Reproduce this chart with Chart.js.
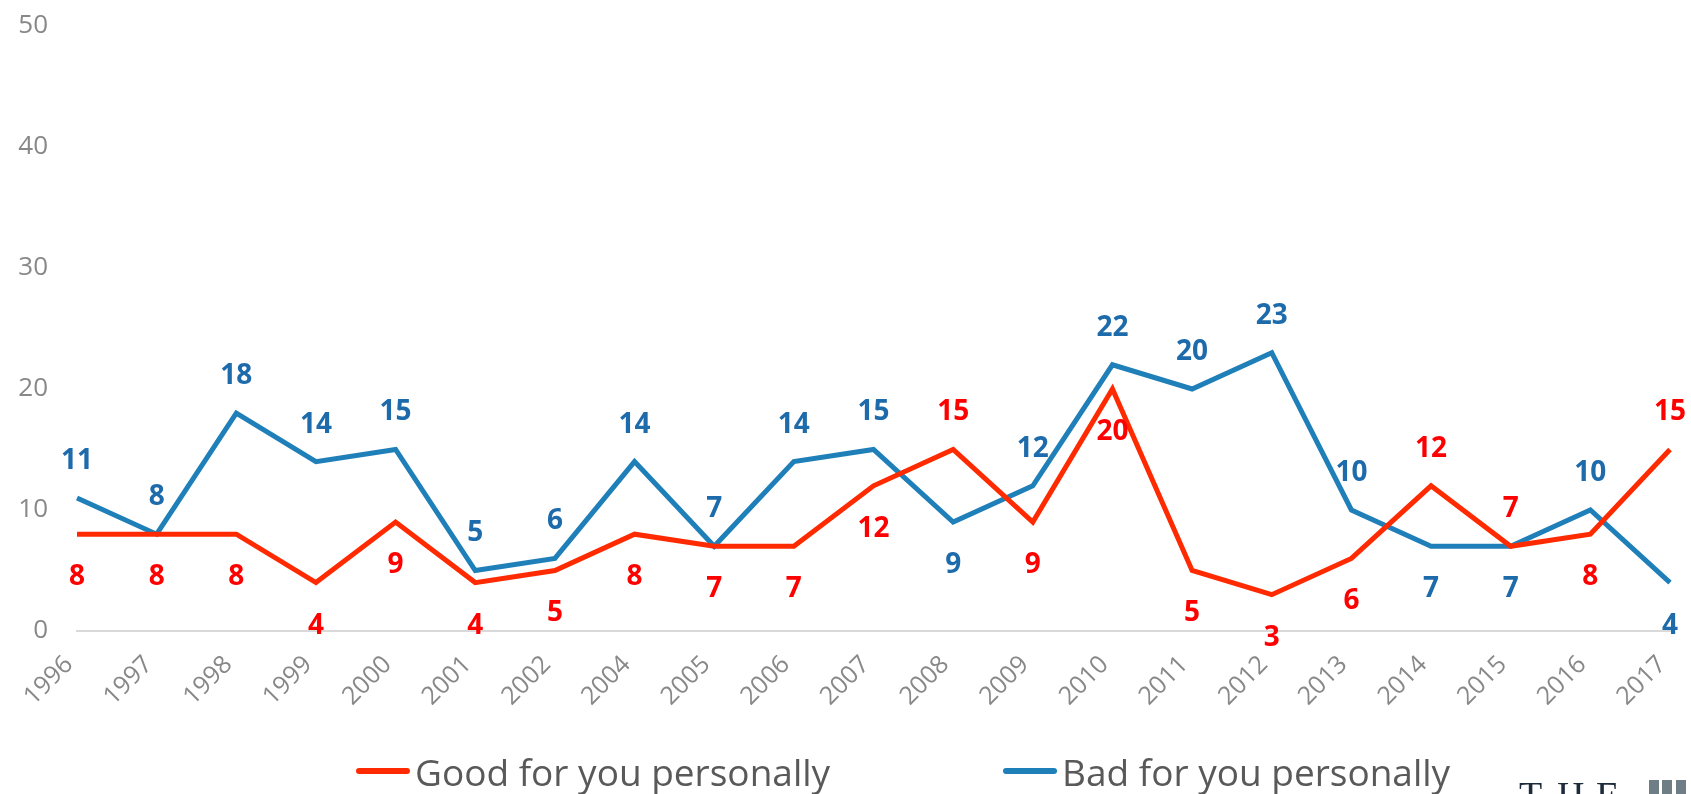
<!DOCTYPE html>
<html><head><meta charset="utf-8">
<script src="https://cdn.jsdelivr.net/npm/chart.js@4.4.0/dist/chart.umd.min.js"></script>
<style>
html,body{margin:0;padding:0;background:#fff;overflow:hidden}
#wrap{position:relative;width:1691px;height:794px}
</style>
</head><body><div id="wrap"><canvas id="c" width="1691" height="794"></canvas></div>
<script>
const years = ['1996','1997','1998','1999','2000','2001','2002','2004','2005','2006','2007','2008','2009','2010','2011','2012','2013','2014','2015','2016','2017'];
const goodForYou = [8,8,8,4,9,4,5,8,7,7,12,15,9,20,5,3,6,12,7,8,15];
const badForYou = [11,8,18,14,15,5,6,14,7,14,15,9,12,22,20,23,10,7,7,10,4];
const yTicks = [0,10,20,30,40,50];
const goodLabelSide = ['b','b','b','b','b','b','b','b','b','b','b','a','b','b','b','b','b','a','a','b','a'];
const badLabelSide = ['a','a','a','a','a','a','a','a','a','a','a','b','a','a','a','a','a','b','b','a','b'];
const seriesNames = ['Good for you personally','Bad for you personally'];

const FONT = "'Open Sans', 'Noto Sans', sans-serif";
const RED = '#ff2a00', BLUE = '#1f7fb8';
const RED_LBL = '#ff0000', BLUE_LBL = '#1d6bab';

const labelPlugin = {
  id: 'pointLabels',
  afterDatasetsDraw(chart) {
    const ctx = chart.ctx;
    ctx.save();
    ctx.font = "bold 28px " + FONT;
    ctx.textAlign = 'center';
    ctx.textBaseline = 'middle';
    chart.data.datasets.forEach((ds, di) => {
      const meta = chart.getDatasetMeta(di);
      const sides = ds._sides;
      ctx.fillStyle = ds._labelColor;
      meta.data.forEach((pt, i) => {
        const off = sides[i] === 'a' ? -37 : 43;
        ctx.fillText(String(ds.data[i]), pt.x, pt.y + off);
      });
    });
    ctx.restore();
  }
};

const legendPlugin = {
  id: 'customLegend',
  afterDraw(chart) {
    const ctx = chart.ctx;
    ctx.save();
    const items = [
      {text: seriesNames[0], color: RED, x: 356},
      {text: seriesNames[1], color: BLUE, x: 1003}
    ];
    ctx.font = "37px " + FONT;
    ctx.textBaseline = 'middle';
    ctx.textAlign = 'left';
    items.forEach(it => {
      ctx.strokeStyle = it.color;
      ctx.lineWidth = 6;
      ctx.lineCap = 'round';
      ctx.beginPath();
      ctx.moveTo(it.x + 3, 771);
      ctx.lineTo(it.x + 51, 771);
      ctx.stroke();
      ctx.fillStyle = '#595959';
      ctx.fillText(it.text, it.x + 59, 775);
    });
    // logo fragment bottom-right
    ctx.fillStyle = '#1e2b3a';
    ctx.font = "38px 'Liberation Serif', 'DejaVu Serif', serif";
    ctx.textBaseline = 'top';
    ctx.textAlign = 'left';
    const letters = ['T','H','E'];
    const lx = [1519, 1557, 1596];
    letters.forEach((l, i) => ctx.fillText(l, lx[i], 779));
    ctx.fillStyle = '#6f7e86';
    [1649, 1662, 1676].forEach(x => ctx.fillRect(x, 780, 10, 20));
    ctx.restore();
  }
};

new Chart(document.getElementById('c'), {
  type: 'line',
  data: {
    labels: years,
    datasets: [
      {label: seriesNames[0], data: goodForYou, borderColor: RED, backgroundColor: RED, borderWidth: 5,
       pointRadius: 0, tension: 0, borderJoinStyle: 'miter', _sides: goodLabelSide, _labelColor: RED_LBL},
      {label: seriesNames[1], data: badForYou, borderColor: BLUE, backgroundColor: BLUE, borderWidth: 5,
       pointRadius: 0, tension: 0, borderJoinStyle: 'miter', _sides: badLabelSide, _labelColor: BLUE_LBL}
    ]
  },
  options: {
    responsive: false,
    animation: false,
    devicePixelRatio: 1,
    layout: {padding: {left: 0, right: 21, top: 26, bottom: 73}},
    plugins: {legend: {display: false}, tooltip: {enabled: false}},
    scales: {
      x: {
        type: 'category',
        offset: false,
        grid: {display: false, drawTicks: false},
        border: {display: true, color: '#d9d9d9', width: 2},
        ticks: {minRotation: 45, maxRotation: 45, padding: 19, labelOffset: -8, color: '#888888', font: {family: FONT, size: 25}},
        afterFit: s => { s.height = 90; s.paddingLeft = 0; s.paddingRight = 0; }
      },
      y: {
        min: 0, max: 50,
        afterBuildTicks: s => { s.ticks = yTicks.map(v => ({value: v})); },
        grid: {display: false, drawTicks: false},
        border: {display: false},
        ticks: {padding: 29, color: '#888888', font: {family: FONT, size: 26}},
        afterFit: s => { s.width = 77; s.paddingTop = 0; s.paddingBottom = 0; }
      }
    }
  },
  plugins: [labelPlugin, legendPlugin]
});
</script>
</body></html>
